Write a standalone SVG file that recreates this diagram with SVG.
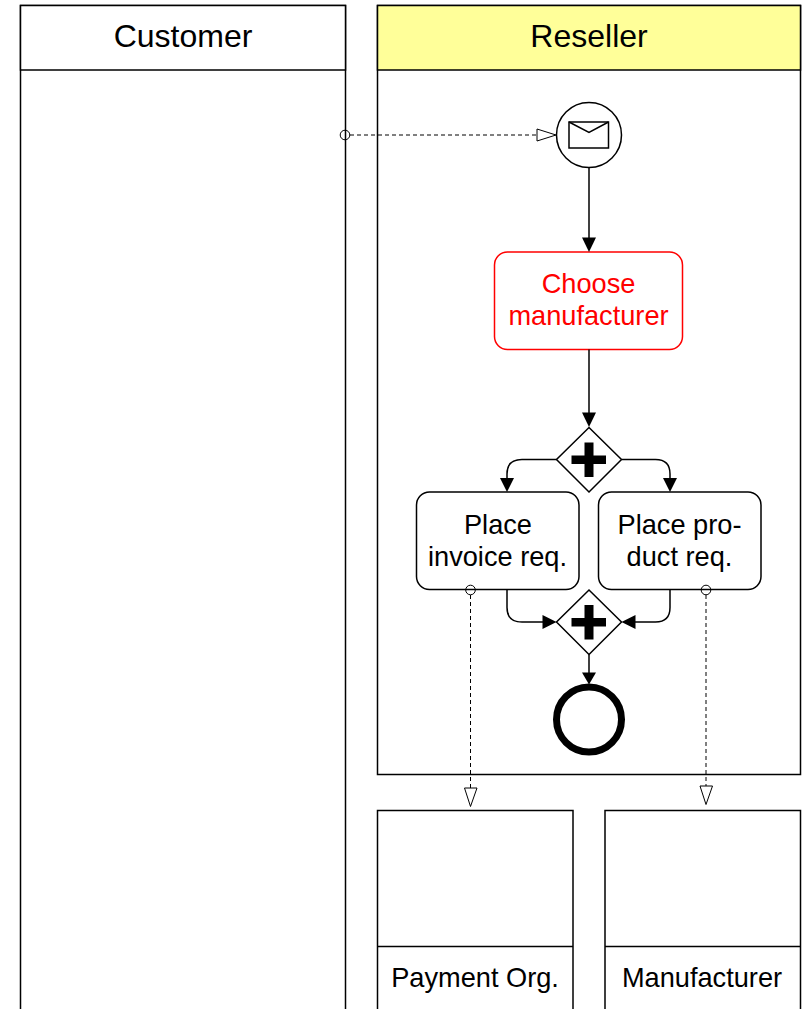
<svg xmlns="http://www.w3.org/2000/svg" width="805" height="1009" viewBox="0 0 805 1009">
<style>
text{font-family:"Liberation Sans",Arial,sans-serif;fill:#000;text-anchor:middle}
.h{font-size:32px}.t{font-size:27.200px}.n{font-size:27.200px}
.box{fill:#fff;stroke:#000;stroke-width:1.500}
.flow{fill:none;stroke:#000;stroke-width:1.500}
.msg{fill:none;stroke:#000;stroke-width:1;stroke-dasharray:4 3}
.oh{fill:#fff;stroke:#000;stroke-width:1}
.oc{fill:none;stroke:#000;stroke-width:1}
.ah{fill:#000;stroke:none}
</style>
<rect width="805" height="1009" fill="#fff"/>
<g id="pool-customer">
<rect class="box" x="20.500" y="5.500" width="325" height="1020"/>
<rect class="box" x="20.500" y="5.500" width="325" height="64.500"/>
<text class="h" x="183" y="47">Customer</text>
</g>
<g id="pool-reseller">
<rect class="box" x="377.500" y="5.500" width="423" height="769"/>
<rect class="box" x="377.500" y="5.500" width="423" height="64.500" style="fill:#ffff99"/>
<text class="h" x="589" y="47">Reseller</text>
</g>
<g id="pool-payment">
<rect class="box" x="377.500" y="810.500" width="195.500" height="220"/>
<line class="box" x1="377.500" y1="946.500" x2="573" y2="946.500"/>
<text class="n" x="475" y="987">Payment Org.</text>
</g>
<g id="pool-manufacturer">
<rect class="box" x="605" y="810.500" width="195.500" height="220"/>
<line class="box" x1="605" y1="946.500" x2="800.500" y2="946.500"/>
<text class="n" x="702" y="987">Manufacturer</text>
</g>
<g id="start-event">
<circle class="box" cx="589" cy="135" r="32.500"/>
<rect class="box" x="569" y="122" width="39.500" height="26"/>
<path class="flow" d="M569 122L589 132.500L608.500 122"/>
</g>
<g id="task-choose">
<rect x="494.500" y="252" width="188" height="97.500" rx="13" fill="#fff" stroke="#ff0000" stroke-width="1.500"/>
<text class="t" x="588.500" y="292.500" style="fill:#ff0000">Choose</text>
<text class="t" x="588.500" y="325" style="fill:#ff0000">manufacturer</text>
</g>
<g id="gateway-split">
<path class="box" d="M589 427.500L621.500 459.500L589 492L556.500 459.500Z"/>
<path d="M584.500 442.500H593.500V455.500H606V464H593.500V477H584.500V464H571.500V455.500H584.500Z" fill="#000"/>
</g>
<g id="task-invoice">
<rect class="box" x="416.500" y="492" width="162.500" height="97.500" rx="13"/>
<text class="t" x="498" y="533.500">Place</text>
<text class="t" x="497.500" y="566">invoice req.</text>
</g>
<g id="task-product">
<rect class="box" x="598.500" y="492" width="162.500" height="97.500" rx="13"/>
<text class="t" x="679.500" y="533.500">Place pro-</text>
<text class="t" x="679.500" y="566">duct req.</text>
</g>
<g id="gateway-join">
<path class="box" d="M589 590L621.500 622L589 654.500L556.500 622Z"/>
<path d="M584.500 605H593.500V618H606V626.500H593.500V639.500H584.500V626.500H571.500V618H584.500Z" fill="#000"/>
</g>
<g id="end-event">
<circle cx="589" cy="719.500" r="32.500" fill="#fff" stroke="#000" stroke-width="7"/>
</g>
<g id="connectors">
<path class="flow" d="M589 167.500V238"/>
<path class="ah" d="M582 237.500H596L589 252Z"/>
<path class="flow" d="M589 349.500V413"/>
<path class="ah" d="M582 412.500H596L589 427Z"/>
<path class="flow" d="M556.500 459.500H522Q507 459.500 507 474V479"/>
<path class="ah" d="M500 478H514L507 492Z"/>
<path class="flow" d="M621.500 459.500H655.500Q670 459.500 670 474V479"/>
<path class="ah" d="M663 478H677L670 492Z"/>
<path class="flow" d="M507 589.500V607.500Q507 622 522 622H543"/>
<path class="ah" d="M542.500 615V629L556.500 622Z"/>
<path class="flow" d="M670 589.500V607.500Q670 622 655.500 622H635"/>
<path class="ah" d="M635.500 615V629L621.500 622Z"/>
<path class="flow" d="M589 654.500V673"/>
<path class="ah" d="M582 672.500H596L589 684.500Z"/>
<circle class="oc" cx="345" cy="135" r="4.800"/>
<path class="msg" d="M350 135H537"/>
<path class="oh" d="M537 129L556 135L537 141Z"/>
<circle class="oc" cx="470.500" cy="590" r="4.800"/>
<path class="msg" d="M470.500 595V788"/>
<path class="oh" d="M464.500 788H477L470.500 806.500Z"/>
<circle class="oc" cx="706" cy="590" r="4.800"/>
<path class="msg" d="M706 595V786"/>
<path class="oh" d="M700 786H712.500L706 804.500Z"/>
</g>
</svg>
